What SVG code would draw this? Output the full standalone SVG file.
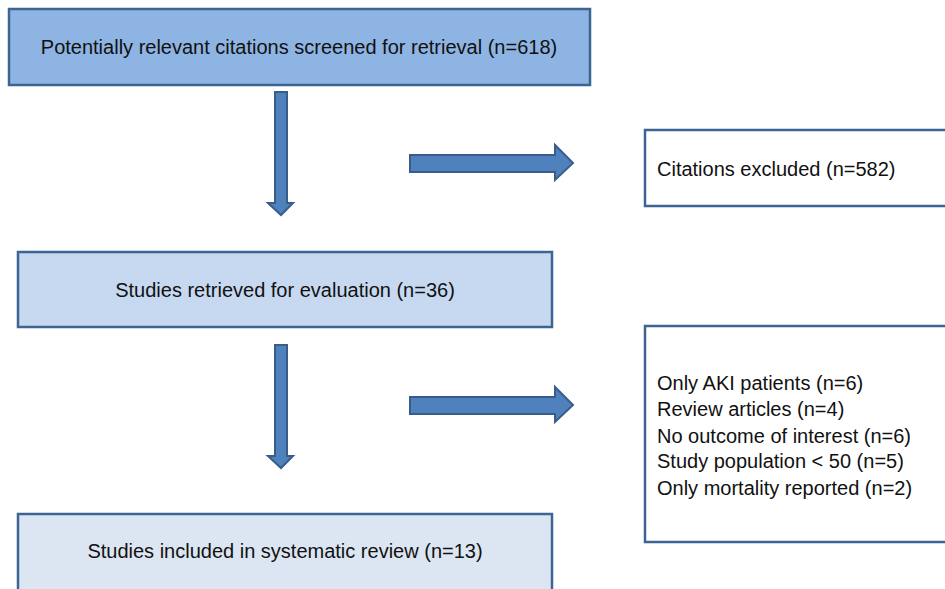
<svg xmlns="http://www.w3.org/2000/svg" width="945" height="589" viewBox="0 0 945 589">
<style>
.box{stroke:#3c6594;stroke-width:2.5}
.t{font-family:"Liberation Sans",Arial,sans-serif;font-size:20px;fill:#111}
.arr{fill:#4f81bd;stroke:#385d8a;stroke-width:2}
</style>
<g id="n1"><rect class="box" x="9" y="9" width="581" height="76" fill="#8eb4e3"/><text class="t" x="299" y="54" text-anchor="middle">Potentially relevant citations screened for retrieval (n=618)</text></g>
<g id="n2"><rect class="box" x="18" y="252" width="534" height="75" fill="#c6d9f1"/><text class="t" x="285" y="297" text-anchor="middle">Studies retrieved for evaluation (n=36)</text></g>
<g id="n3"><rect class="box" x="18" y="514" width="534" height="80" fill="#dce6f2"/><text class="t" x="285" y="558" text-anchor="middle">Studies included in systematic review (n=13)</text></g>
<g id="n4"><rect class="box" x="645" y="130" width="310" height="76" fill="#fff"/><text class="t" x="657" y="176">Citations excluded (n=582)</text></g>
<g id="n5"><rect class="box" x="645" y="326" width="310" height="216" fill="#fff"/>
<text class="t" x="657" y="390">Only AKI patients (n=6)</text>
<text class="t" x="657" y="416">Review articles (n=4)</text>
<text class="t" x="657" y="443">No outcome of interest (n=6)</text>
<text class="t" x="657" y="468">Study population &lt; 50 (n=5)</text>
<text class="t" x="657" y="495">Only mortality reported (n=2)</text></g>
<g id="connectors">
<path class="arr" d="M275,92 H287 V203 H293 L281,215 L268,203 H275 Z"/>
<path class="arr" d="M275,345 H287 V456 H293 L281,468 L268,456 H275 Z"/>
<path class="arr" d="M410,155 H555 V145 L573,163 L555,180 V172 H410 Z"/>
<path class="arr" d="M410,397 H555 V387 L573,405 L555,422 V414 H410 Z"/>
</g>
</svg>
